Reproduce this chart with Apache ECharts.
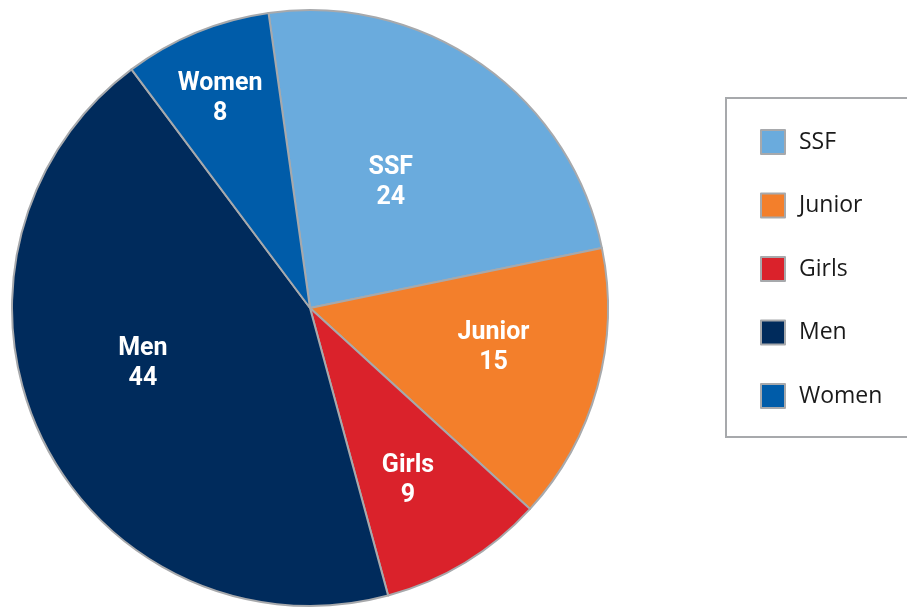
<!DOCTYPE html>
<html>
<head>
<meta charset="utf-8">
<script src="https://cdn.jsdelivr.net/npm/echarts@6/dist/echarts.min.js"></script>
<style>
    html, body { margin: 0; padding: 0; background: #fff; }
    #chart { width: 907px; height: 608px; }
</style>
</head>
<body>
<div id="chart"></div>
<script type="text/javascript">
    // 数据
    var categories = ['SSF', 'Junior', 'Girls', 'Men', 'Women'];
    var values = [24, 15, 9, 44, 8];
    var colors = ['#6aabdd', '#f37f2b', '#da222b', '#002b5c', '#005ca9'];
    // label placement: distance from centre (px) and turn off the mid angle (deg)
    var labelRadius = [152, 187, 196, 175, 231];
    var labelTurn = [3.1, 4.3, -1.4, -8.7, 0.5];

    var cx = 310, cy = 308;

    var myChart = echarts.init(document.getElementById('chart'));

    var pieData = [];
    for (var i = 0; i < categories.length; i++) {
        pieData.push({ name: categories[i], value: values[i], itemStyle: { color: colors[i] } });
    }

    var option = {
        animation: false,
        legend: {
            orient: 'vertical',
            left: 726,
            top: 98,
            padding: [31, 200, 28, 34],
            borderColor: '#a7a9ac',
            borderWidth: 2,
            itemWidth: 24,
            itemHeight: 24,
            itemGap: 37.5,
            icon: 'rect',
            selectedMode: false,
            textStyle: {
                fontFamily: 'Open Sans',
                fontSize: 23,
                color: '#1a1a1a',
                padding: [0, 0, 0, 9]
            },
            data: categories
        },
        series: [{
            name: 'pie',
            type: 'pie',
            center: [cx, cy],
            radius: 298,
            startAngle: 98,
            clockwise: true,
            silent: true,
            itemStyle: {
                borderColor: '#a7a9ac',
                borderWidth: 2
            },
            label: {
                show: true,
                position: 'inside',
                formatter: '{b}\n{c}',
                color: '#fff',
                fontFamily: 'Roboto',
                fontWeight: 'bold',
                fontSize: 25,
                lineHeight: 30
            },
            labelLine: { show: false },
            labelLayout: function (params) {
                var r = params.labelRect;
                var vx = r.x + r.width / 2 - cx, vy = r.y + r.height / 2 - cy;
                var len = Math.sqrt(vx * vx + vy * vy);
                var t = labelTurn[params.dataIndex] * Math.PI / 180;
                var k = labelRadius[params.dataIndex] / len;
                var nx = (vx * Math.cos(t) + vy * Math.sin(t)) * k;
                var ny = (-vx * Math.sin(t) + vy * Math.cos(t)) * k;
                return { dx: nx - vx, dy: ny - vy + 3.5 };
            },
            data: pieData
        }]
    };

    myChart.setOption(option, true);
</script>
</body>
</html>
